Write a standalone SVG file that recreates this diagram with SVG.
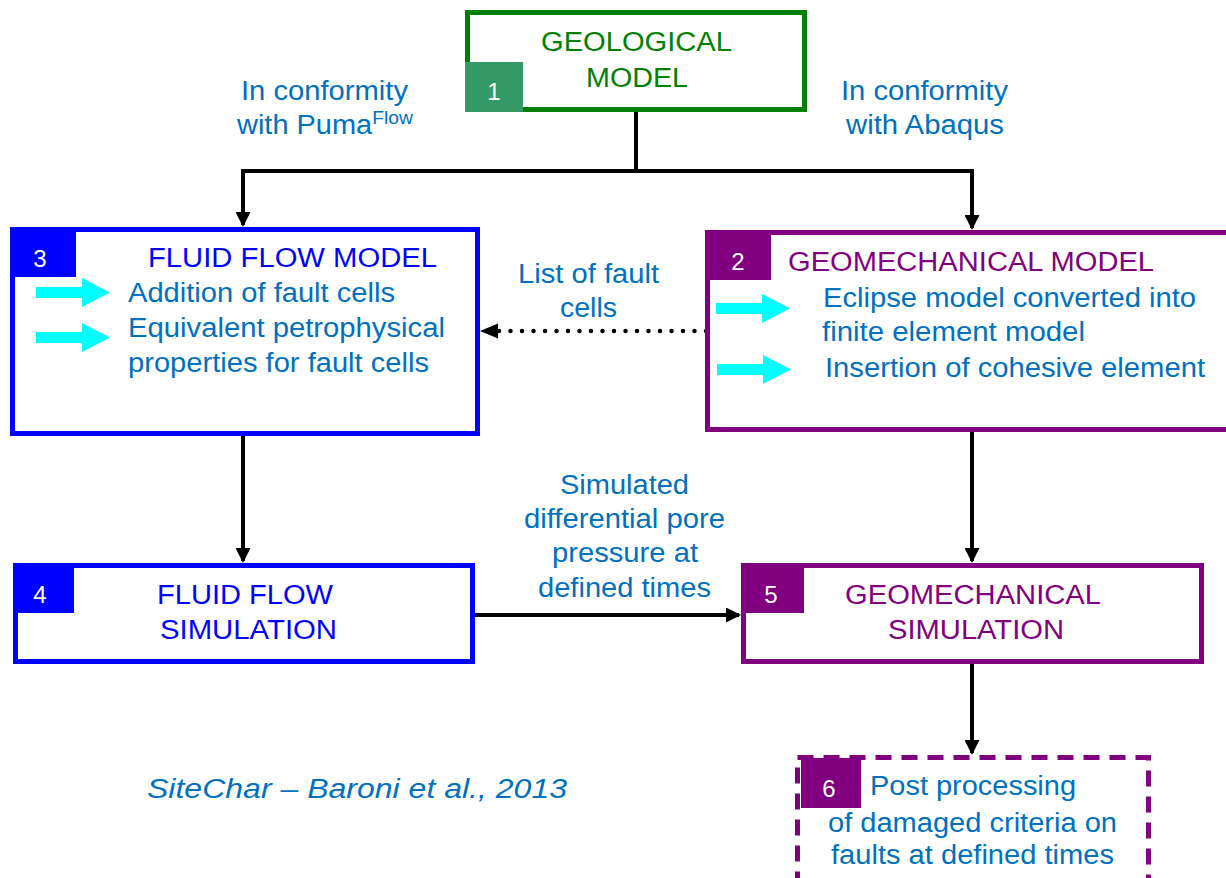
<svg xmlns="http://www.w3.org/2000/svg" width="1226" height="878" viewBox="0 0 1226 878">
<style>
text{font-family:"Liberation Sans",Arial,sans-serif;font-size:27px}
.blue{fill:#0070C0}
.green{fill:#008000}
.pure{fill:#0000FF}
.purp{fill:#800080}
.num{fill:#fff;font-size:24px;text-anchor:middle}
.c{text-anchor:middle}
.conn{stroke:#000;stroke-width:4;fill:none}
.cyan{fill:#00FFFF}
</style>
<defs>
<marker id="ah" markerWidth="15" markerHeight="15" refX="13" refY="7.5" orient="auto" markerUnits="userSpaceOnUse">
<path d="M0,0 L15,7.5 L0,15 Z" fill="#000"/>
</marker>
<path id="carrow" d="M0,9 H46 V0 L74,14.5 L46,29 V20 H0 Z"/>
</defs>
<rect width="1226" height="878" fill="#fff"/>

<g id="connectors">
<path class="conn" d="M636,112 V171 H243 V225" marker-end="url(#ah)"/>
<path class="conn" d="M636,171 H972 V228" marker-end="url(#ah)"/>
<path class="conn" d="M243,436 V561" marker-end="url(#ah)"/>
<path class="conn" d="M972,432 V561" marker-end="url(#ah)"/>
<path class="conn" d="M475,615 H739" marker-end="url(#ah)"/>
<path class="conn" d="M972,664 V753" marker-end="url(#ah)"/>
<path d="M706,331 H494" stroke="#000" stroke-width="4.5" stroke-linecap="round" stroke-dasharray="0 11.5" fill="none"/>
<path d="M480,331 L498,323.5 L498,338.5 Z" fill="#000"/>
</g>

<g id="node1">
<rect x="467.5" y="12.5" width="337" height="97" fill="#fff" stroke="#008000" stroke-width="5"/>
<rect x="465" y="62" width="58" height="50" fill="#339966"/>
<text class="num" x="494" y="100">1</text>
<text class="green" x="541" y="51" textLength="191" lengthAdjust="spacingAndGlyphs">GEOLOGICAL</text>
<text class="green" x="586" y="87" textLength="102" lengthAdjust="spacingAndGlyphs">MODEL</text>
</g>

<g id="label-puma">
<text class="blue" x="241" y="100" textLength="167" lengthAdjust="spacingAndGlyphs">In conformity</text>
<text class="blue" x="237" y="134" textLength="176" lengthAdjust="spacingAndGlyphs">with Puma<tspan font-size="18" dy="-10">Flow</tspan></text>
</g>
<g id="label-abaqus">
<text class="blue" x="841" y="100" textLength="167" lengthAdjust="spacingAndGlyphs">In conformity</text>
<text class="blue" x="846" y="134" textLength="158" lengthAdjust="spacingAndGlyphs">with Abaqus</text>
</g>

<g id="node3">
<rect x="12.5" y="229.5" width="465" height="204" fill="#fff" stroke="#0000FF" stroke-width="5"/>
<rect x="10" y="227" width="66" height="50" fill="#0000FF"/>
<text class="num" x="40" y="267">3</text>
<text class="pure" x="148" y="267" textLength="289" lengthAdjust="spacingAndGlyphs">FLUID FLOW MODEL</text>
<use href="#carrow" x="36" y="278" class="cyan"/>
<use href="#carrow" x="36" y="323" class="cyan"/>
<text class="blue" x="128" y="302" textLength="267" lengthAdjust="spacingAndGlyphs">Addition of fault cells</text>
<text class="blue" x="128" y="337" textLength="317" lengthAdjust="spacingAndGlyphs">Equivalent petrophysical</text>
<text class="blue" x="128" y="372" textLength="301" lengthAdjust="spacingAndGlyphs">properties for fault cells</text>
</g>

<g id="label-list">
<text class="blue" x="518" y="283" textLength="141" lengthAdjust="spacingAndGlyphs">List of fault</text>
<text class="blue" x="560" y="317" textLength="57" lengthAdjust="spacingAndGlyphs">cells</text>
</g>

<g id="node2">
<rect x="707.5" y="232.5" width="530" height="197" fill="#fff" stroke="#800080" stroke-width="5"/>
<rect x="705" y="230" width="66" height="50" fill="#800080"/>
<text class="num" x="738" y="270">2</text>
<text class="purp" x="788" y="271" textLength="366" lengthAdjust="spacingAndGlyphs">GEOMECHANICAL MODEL</text>
<use href="#carrow" x="716" y="294" class="cyan"/>
<use href="#carrow" x="717" y="355" class="cyan"/>
<text class="blue" x="823" y="307" textLength="373" lengthAdjust="spacingAndGlyphs">Eclipse model converted into</text>
<text class="blue" x="822" y="341" textLength="263" lengthAdjust="spacingAndGlyphs">finite element model</text>
<text class="blue" x="825" y="377" textLength="380" lengthAdjust="spacingAndGlyphs">Insertion of cohesive element</text>
</g>

<g id="node4">
<rect x="15.5" y="565.5" width="457" height="96" fill="#fff" stroke="#0000FF" stroke-width="5"/>
<rect x="13" y="563" width="61" height="50" fill="#0000FF"/>
<text class="num" x="40" y="603">4</text>
<text class="pure" x="157" y="604" textLength="176" lengthAdjust="spacingAndGlyphs">FLUID FLOW</text>
<text class="pure" x="160" y="639" textLength="177" lengthAdjust="spacingAndGlyphs">SIMULATION</text>
</g>

<g id="label-sim">
<text class="blue" x="560" y="494" textLength="129" lengthAdjust="spacingAndGlyphs">Simulated</text>
<text class="blue" x="524" y="528" textLength="201" lengthAdjust="spacingAndGlyphs">differential pore</text>
<text class="blue" x="552" y="562" textLength="146" lengthAdjust="spacingAndGlyphs">pressure at</text>
<text class="blue" x="538" y="597" textLength="173" lengthAdjust="spacingAndGlyphs">defined times</text>
</g>

<g id="node5">
<rect x="743.5" y="565.5" width="458" height="96" fill="#fff" stroke="#800080" stroke-width="5"/>
<rect x="741" y="563" width="63" height="50" fill="#800080"/>
<text class="num" x="771" y="603">5</text>
<text class="purp" x="845" y="604" textLength="256" lengthAdjust="spacingAndGlyphs">GEOMECHANICAL</text>
<text class="purp" x="888" y="639" textLength="176" lengthAdjust="spacingAndGlyphs">SIMULATION</text>
</g>

<g id="node6">
<rect x="797.5" y="757.5" width="351" height="130" fill="#fff" stroke="#800080" stroke-width="5" stroke-dasharray="16 10"/>
<rect x="801" y="758" width="60" height="50" fill="#800080"/>
<text class="num" x="829" y="797">6</text>
<text class="blue" x="870" y="795" textLength="206" lengthAdjust="spacingAndGlyphs">Post processing</text>
<text class="blue" x="828" y="832" textLength="289" lengthAdjust="spacingAndGlyphs">of damaged criteria on</text>
<text class="blue" x="831" y="864" textLength="283" lengthAdjust="spacingAndGlyphs">faults at defined times</text>
</g>

<g id="citation">
<text class="blue" x="147" y="798" font-size="29" font-style="italic" textLength="420" lengthAdjust="spacingAndGlyphs">SiteChar – Baroni et al., 2013</text>
</g>
</svg>
